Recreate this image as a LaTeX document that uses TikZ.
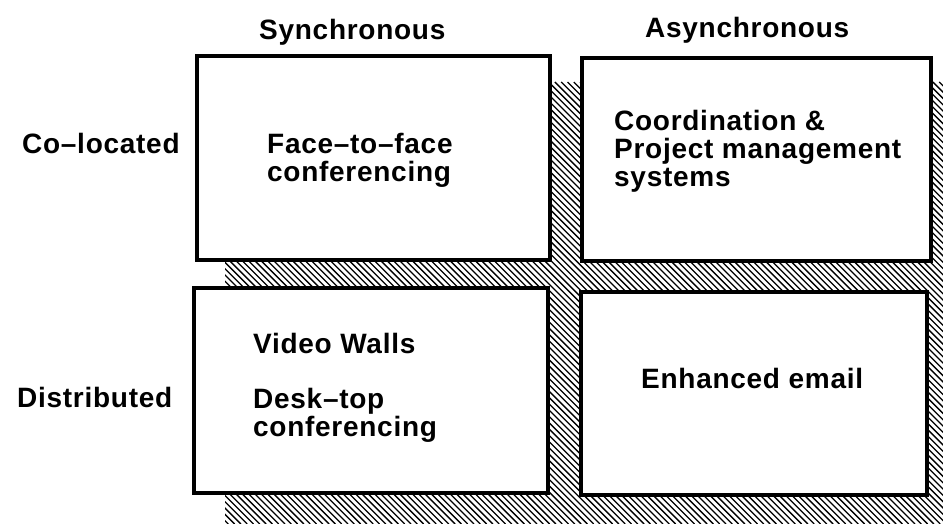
\documentclass[tikz,border=0pt]{standalone}
\usepackage{fontspec}
\setmainfont{Liberation Sans}[LetterSpace=2.6]
\begin{document}
\begin{tikzpicture}[x=1pt,y=-1pt,
  cell/.style={draw=black, line width=3.2pt, fill=white, inner sep=0pt, rectangle},
  hatchline/.style={line width=1.3pt, black},
  lbl/.style={inner sep=0pt, anchor=base west, align=left,
    font=\bfseries\fontsize{28}{28}\selectfont}]
\useasboundingbox (0,0) rectangle (943,524);

% hatched shadow behind the grid
\begin{scope}
  \clip (225,82) rectangle (943,524);
  \foreach \c in {-220,-213.7,...,950}
    \draw[hatchline] (\c,82) -- ++(442,442);
\end{scope}

% the four cells
\node[cell, minimum width=353pt, minimum height=204pt] (tl) at (373.5,158) {};
\node[cell, minimum width=349pt, minimum height=203pt] (tr) at (756.5,159.5) {};
\node[cell, minimum width=354pt, minimum height=205pt] (bl) at (371,390.5) {};
\node[cell, minimum width=346pt, minimum height=203pt] (br) at (754,393.5) {};

% column and row headings (anchored at the baseline of the last line)
\node[lbl] (sync)  at (259,40)  {Synchronous};
\node[lbl] (async) at (645,38)  {Asynchronous};
\node[lbl] (coloc) at (22,154)  {Co--located};
\node[lbl] (distr) at (17,407)  {Distributed};

% cell contents
\node[lbl] (ftf)   at (267,182) {Face--to--face\\conferencing};
\node[lbl] (coord) at (614,186) {Coordination \&\\Project management\\systems};
\node[lbl] (video) at (253,353) {Video Walls};
\node[lbl] (desk)  at (253,436) {Desk--top\\conferencing};
\node[lbl] (email) at (641,388) {Enhanced email};
\end{tikzpicture}
\end{document}
